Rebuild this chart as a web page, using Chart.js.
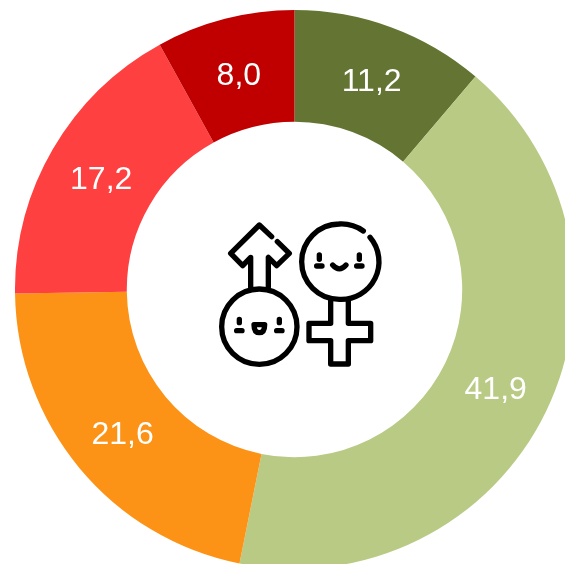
<!DOCTYPE html>
<html><head><meta charset="utf-8">
<script src="https://cdn.jsdelivr.net/npm/chart.js@4"></script>
<style>
html,body{margin:0;padding:0;background:#fff;width:565px;height:564px;overflow:hidden}
#wrap{position:absolute;left:0;top:0;width:565px;height:564px;overflow:hidden}
canvas{position:absolute;left:15px;top:10px}
svg{position:absolute;left:200px;top:200px}
</style></head><body>
<div id="wrap"><canvas id="c" width="559" height="559" style="width:559px;height:559px"></canvas>
<svg width="200" height="190" viewBox="0 0 600 570" fill="none" stroke="#000" stroke-width="16" stroke-linecap="round" stroke-linejoin="round">
<circle cx="178" cy="380" r="113"/>
<path d="M418 72A113 113 0 0 0 418 298A113 113 0 0 0 510 112M490 93A113 113 0 0 0 418 72"/>
<path d="M152 262V172L128 197L92 160L178 75L215 110M232 125L268 160L230 197L205 172V262"/>
<path d="M392 300V370H327V422H392V492H445V422H512V370H445V300"/>
<path d="M358 165V178M350 198H366M478 165V178M470 198H486M398 195Q418 218 438 195"/>
<path d="M118 358V368M110 392H126M238 358V368M230 392H246M162 374H194Q194 398 178 398Q162 398 162 374Z"/>
</svg></div>
<script>
const categories=["A","B","C","D","E"];
const values=[11.2,41.9,21.6,17.2,8.0];
const colors=["#647533","#B9CA85","#FC9316","#FF4040","#C00000"];
const sliceLabels={id:"sliceLabels",afterDatasetsDraw(chart){
  const ctx=chart.ctx;ctx.save();
  ctx.fillStyle="#fff";ctx.font='32px "Liberation Sans"';ctx.textAlign="center";ctx.textBaseline="middle";
  chart.getDatasetMeta(0).data.forEach((a,i)=>{
    const p=a.tooltipPosition();
    ctx.fillText(values[i].toFixed(1).replace(".",","),p.x,p.y+3);
  });
  ctx.restore();
}};
new Chart(document.getElementById("c"),{
  type:"doughnut",
  data:{labels:categories,datasets:[{data:values,backgroundColor:colors,borderWidth:0}]},
  options:{responsive:false,animation:false,cutout:"60%",
    layout:{padding:0},
    plugins:{legend:{display:false},tooltip:{enabled:false}}},
  plugins:[sliceLabels]
});
</script></body></html>
